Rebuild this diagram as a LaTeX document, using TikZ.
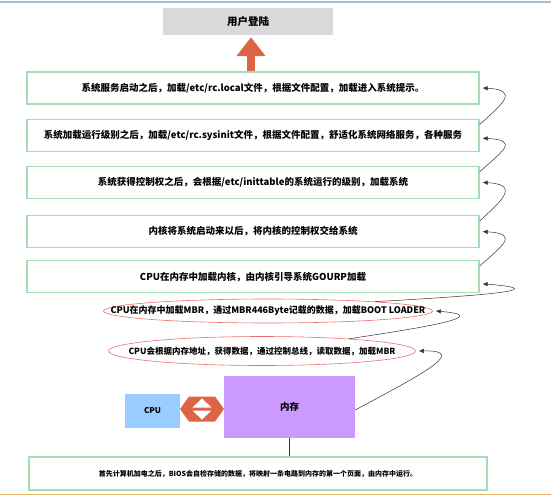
\documentclass[tikz,border=0pt]{standalone}
\usepackage{fontspec}
\setmainfont{Noto Sans CJK SC}
\usepackage{xcolor}
\definecolor{stageline}{HTML}{A6DDB4}
\definecolor{loginbg}{HTML}{D9D9D9}
\definecolor{blockarrow}{HTML}{DE6446}
\definecolor{ringline}{HTML}{EE6E6E}
\definecolor{cpubg}{HTML}{99CCFF}
\definecolor{membg}{HTML}{CC99FF}
\definecolor{topline}{HTML}{A9BBD4}
\definecolor{bottomline}{HTML}{E2B468}
\usetikzlibrary{arrows.meta, positioning, shapes.geometric, calc}

\begin{document}
\begin{tikzpicture}[
			x=1pt, y=-1pt,
			node distance=14pt,
			stage/.style={
				rectangle,
				draw=stageline,
				line width=1.2pt,
				fill=white,
				minimum width=452pt,
				minimum height=32pt,
				inner sep=0pt,
				align=center,
				font=\fontsize{9.5}{11}\selectfont\bfseries,
			},
			ring/.style={
				ellipse,
				draw=ringline,
				line width=0.6pt,
				inner sep=0pt,
				font=\fontsize{9}{11}\selectfont\bfseries,
			},
			flow/.style={-{Latex[length=5pt, width=4.5pt]}, line width=0.5pt, black!80},
			uparrow/.style={-{Triangle[width=28pt, length=19pt]}, line width=8pt, blockarrow},
			]
			\useasboundingbox (0,0) rectangle (551,498);
			\draw[topline, line width=1.5pt] (0,2) -- (551,2);
			\draw[bottomline, line width=1.5pt] (0,494.5) -- (551,494.5);
			
			\node[fill=loginbg, minimum width=170pt, minimum height=27pt, inner sep=0pt,
			font=\fontsize{10.5}{12}\selectfont\bfseries] (login) at (248,21.5) {用户登陆};
			\node[stage] (b1) at (253,88) {系统服务启动之后，加载/etc/rc.local文件，根据文件配置，加载进入系统提示。};
			\node[stage, below=of b1] (b2) {系统加载运行级别之后，加载/etc/rc.sysinit文件，根据文件配置，舒适化系统网络服务，各种服务};
			\node[stage, below=of b2] (b3) {系统获得控制权之后，会根据/etc/inittable的系统运行的级别，加载系统};
			\node[stage, below=16pt of b3] (b4) {内核将系统启动来以后，将内核的控制权交给系统};
			\node[stage, below=12pt of b4] (b5) {CPU在内存中加载内核，由内核引导系统GOURP加载};
			\node[ring, minimum width=329pt, minimum height=24pt] (e1) at (268,311)
			{\makebox[0pt]{CPU在内存中加载MBR，通过MBR446Byte记载的数据，加载BOOT LOADER}};
			\node[ring, minimum width=307pt, minimum height=29pt, font=\fontsize{8.5}{10}\selectfont\bfseries] (e2) at (262,351)
			{\makebox[0pt]{CPU会根据内存地址，获得数据，通过控制总线，读取数据，加载MBR}};
			\node[fill=cpubg, minimum width=55pt, minimum height=34pt, inner sep=0pt,
			font=\fontsize{8}{10}\selectfont\bfseries] (cpu) at (152.5,411) {CPU};
			\node[fill=membg, minimum width=131pt, minimum height=62pt, inner sep=0pt,
			font=\fontsize{9.5}{11}\selectfont\bfseries] (mem) at (289.5,407) {内存};
			\node[stage, minimum width=458pt, minimum height=33pt, font=\fontsize{7}{9}\selectfont\bfseries] (base) at (258,473.5)
			{首先计算机加电之后，BIOS会自检存储的数据，将映射一条电路到内存的第一个页面，由内存中运行。};
			
			% block arrows
			\coordinate (top) at (b1.north |- login.south);
			\draw[uparrow] ([xshift=-2pt]b1.north) -- ([xshift=-2pt, yshift=-2pt]top);
			\coordinate (mid) at ($(cpu.east)!0.5!(mem.west)$);
			\fill[blockarrow] ($(mid)+(-22,0)$) -- ($(mid)+(-13,-12.5)$) -- ($(mid)+(13,-12.5)$) -- ($(mid)+(22,0)$)
			-- ($(mid)+(13,12.5)$) -- ($(mid)+(-13,12.5)$) -- cycle;
			\fill[white] ($(mid)+(-9.5,-1.5)$) -- ($(mid)+(0,-10.5)$) -- ($(mid)+(9.5,-1.5)$) -- cycle;
			\fill[white] ($(mid)+(-9.5,1.5)$) -- ($(mid)+(0,10.5)$) -- ($(mid)+(9.5,1.5)$) -- cycle;
			
			\draw[line width=0.5pt, black!80] (mem.south) -- (mem.south |- base.north);
			\draw[flow] ([yshift=-3pt]mem.east) .. controls +(65,-35) and +(51,-1) .. ([xshift=3pt]e2.east);
			\draw[flow] (e2.8) .. controls +(73,-11) and +(60,5) .. ([xshift=3pt]e1.east);
			\draw[flow] (e1.5) .. controls +(107,-6) and +(75,6) .. ([xshift=3pt, yshift=-7pt]b5.east);
			\draw[flow] ([yshift=-6pt]b5.north east) .. controls +(22,-20) and +(38,2) .. ([xshift=3pt]b4.east);
			\draw[flow] ([yshift=-6pt]b4.north east) .. controls +(22,-20) and +(38,2) .. ([xshift=3pt]b3.east);
			\draw[flow] ([yshift=-6pt]b3.north east) .. controls +(22,-20) and +(38,2) .. ([xshift=3pt, yshift=-3pt]b2.east);
			\draw[flow] ([yshift=-6pt]b2.north east) .. controls +(22,-20) and +(38,2) .. ([xshift=3pt]b1.east);
		\end{tikzpicture}
\end{document}
